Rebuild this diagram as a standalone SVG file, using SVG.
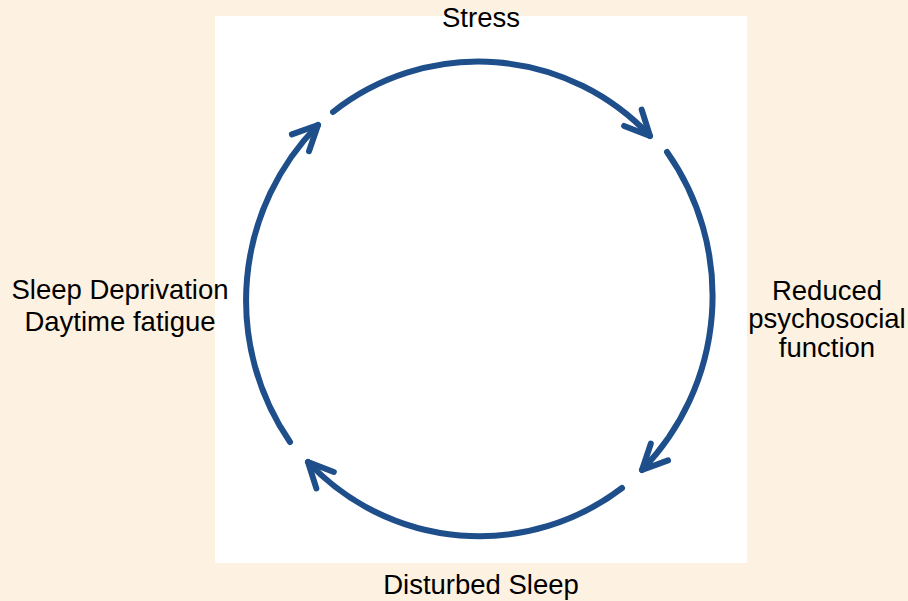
<svg xmlns="http://www.w3.org/2000/svg" width="908" height="601" viewBox="0 0 908 601">
  <defs>
    <style>
      .lbl { font-family: "Liberation Sans", Arial, sans-serif; font-size: 27.5px; fill: #000; text-anchor: middle; }
      .arc { fill: none; stroke: #1e4f8b; stroke-width: 6; stroke-linecap: round; }
    </style>
    <marker id="chev" markerUnits="userSpaceOnUse" markerWidth="40" markerHeight="40" refX="0" refY="0" viewBox="-30 -20 40 40" orient="auto" overflow="visible">
      <path d="M-25,-12 L0,0 L-25,12" fill="none" stroke="#1e4f8b" stroke-width="6" stroke-linecap="round" stroke-linejoin="round"/>
    </marker>
  </defs>
  <rect width="908" height="601" fill="#fdf1e1"/>
  <rect x="215" y="16" width="532" height="547" fill="#ffffff"/>
  <g id="connectors">
    <path class="arc" d="M333,112 A235,235 0 0 1 650,136" marker-end="url(#chev)"/>
    <path class="arc" d="M667,152 A250,250 0 0 1 642,470" marker-end="url(#chev)"/>
    <path class="arc" d="M622,488 A235,235 0 0 1 308,462" marker-end="url(#chev)"/>
    <path class="arc" d="M290,442 A250,250 0 0 1 318,125" marker-end="url(#chev)"/>
  </g>
  <g id="stress"><text class="lbl" x="481" y="27">Stress</text></g>
  <g id="reduced"><text class="lbl" x="827" y="300">Reduced</text><text class="lbl" x="827" y="328">psychosocial</text><text class="lbl" x="827" y="357">function</text></g>
  <g id="disturbed"><text class="lbl" x="481" y="594">Disturbed Sleep</text></g>
  <g id="deprivation"><text class="lbl" x="120" y="299">Sleep Deprivation</text><text class="lbl" x="120" y="331">Daytime fatigue</text></g>
</svg>
